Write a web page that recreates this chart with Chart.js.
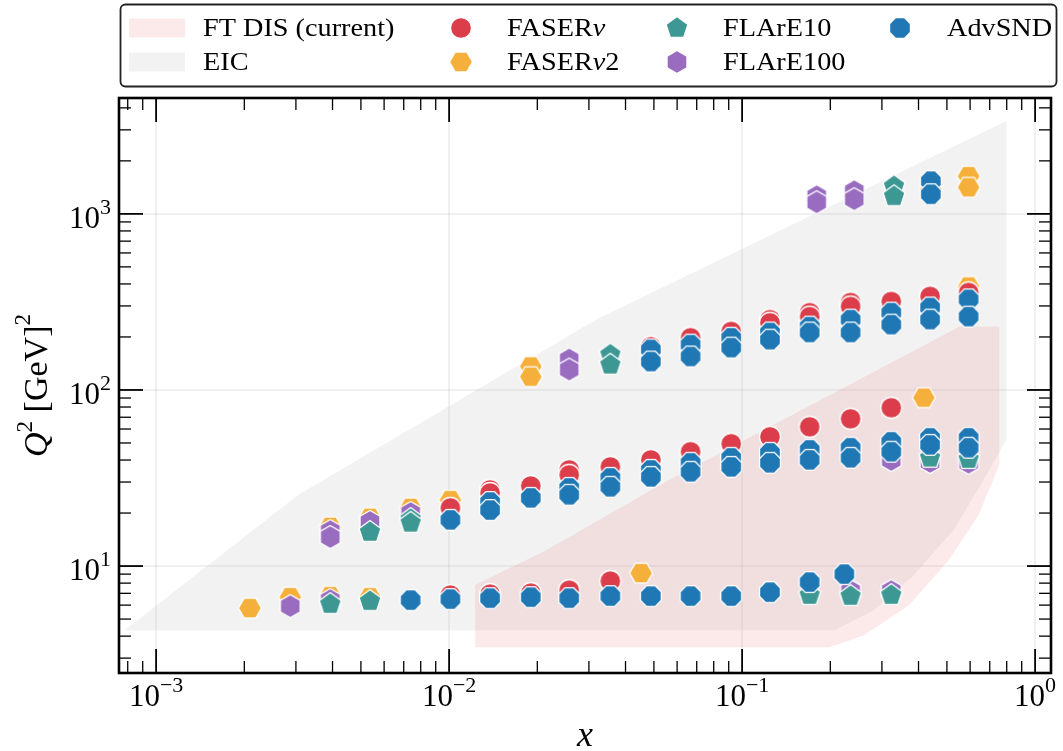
<!DOCTYPE html>
<html>
<head>
<meta charset="utf-8">
<script src="https://cdn.jsdelivr.net/npm/chart.js@4.4.1/dist/chart.umd.min.js"></script>
<style>
  html, body { margin: 0; background: #fff; }
</style>
</head>
<body>
<canvas id="disChart" width="1063" height="751"></canvas>
<script>
// axis ranges and ticks
const xMin = 7.47e-4, xMax = 1.133;
const yMin = 2.47, yMax = 4550;
const xTicks = [1e-3, 1e-2, 1e-1, 1];
const xTickExp = ['−3', '−2', '−1', '0'];
const yTicks = [10, 100, 1000];
const yTickExp = ['1', '2', '3'];

// kinematic coverage (outline of each region)
const ftdisX  = [0.01227, 0.01227, 0.02152, 0.05488, 0.5527, 0.755, 0.755, 0.641, 0.507, 0.372, 0.261, 0.199];
const ftdisQ2 = [3.46, 7.80, 12.33, 30.07, 229.3, 229.3, 37.6, 19.5, 10.8, 6.0, 4.05, 3.46];
const eicX  = [7.81e-4, 3.06e-3, 0.0318, 0.798, 0.798, 0.667, 0.527, 0.386, 0.282, 0.207];
const eicQ2 = [4.32, 25.4, 251.2, 3365, 52.1, 30.9, 16.0, 8.89, 5.62, 4.32];

// pseudodata bins per experiment
const fasernuX = [0.0101, 0.0138, 0.0190, 0.0257, 0.0355,
  0.0101, 0.0138, 0.0138, 0.0190, 0.0257, 0.0257, 0.0355, 0.0488, 0.0667, 0.0918, 0.1245, 0.170, 0.2345, 0.323,
  0.0488, 0.0667, 0.0918, 0.1245, 0.1245, 0.170, 0.170, 0.2345, 0.2345, 0.323, 0.438, 0.593];
const fasernuQ2 = [6.84, 6.93, 7.02, 7.30, 8.22,
  21.4, 27.1, 26.0, 28.5, 35.2, 33.0, 36.6, 40.1, 44.6, 49.5, 54.2, 61.8, 68.6, 79.3,
  176, 198, 215, 251, 241, 275, 261, 314, 298, 318, 340, 358];

const fasernu2X = [0.00209, 0.00287, 0.00393, 0.00537, 0.0452,
  0.00393, 0.00537, 0.00739, 0.0101, 0.417,
  0.0190, 0.0190, 0.593,
  0.4406, 0.593, 0.593];
const fasernu2Q2 = [5.77, 6.66, 6.75, 6.66, 9.12,
  16.7, 18.8, 21.4, 23.7, 90.4,
  136, 119, 387,
  1380, 1637, 1416];

const flare100X = [0.00287, 0.00393, 0.2345, 0.323,
  0.00393, 0.00393, 0.00537, 0.00739, 0.323, 0.438, 0.593,
  0.0257, 0.0257,
  0.1797, 0.1797, 0.2415, 0.2415];
const flare100Q2 = [5.92, 6.41, 7.21, 7.21,
  15.8, 14.6, 17.8, 20.0, 40.0, 39.0, 38.6,
  149, 130.5,
  1259, 1164, 1345, 1211];

const flare10X = [0.00393, 0.00537, 0.170, 0.2345, 0.323,
  0.00537, 0.00739, 0.00739, 0.438, 0.593,
  0.0355, 0.0355,
  0.330, 0.330];
const flare10Q2 = [6.08, 6.32, 6.84, 6.75, 6.84,
  15.6, 18.5, 17.6, 41.2, 40.5,
  159, 139,
  1436, 1259];

const advsndX = [0.00739, 0.0101, 0.0138, 0.0190, 0.0257, 0.0355, 0.0488, 0.0667, 0.0918, 0.1245, 0.170, 0.2233,
  0.0101, 0.0138, 0.0138, 0.0190, 0.0257, 0.0257, 0.0355, 0.0355, 0.0488, 0.0488, 0.0667, 0.0667, 0.0918, 0.0918,
  0.1245, 0.1245, 0.170, 0.170, 0.2345, 0.2345, 0.323, 0.323, 0.438, 0.438, 0.593, 0.593,
  0.0488, 0.0488, 0.0667, 0.0667, 0.0918, 0.0918, 0.1245, 0.1245, 0.170, 0.170, 0.2345, 0.2345, 0.323, 0.323,
  0.438, 0.438, 0.593, 0.593,
  0.4406, 0.4406];
const advsndQ2 = [6.41, 6.49, 6.57, 6.66, 6.57, 6.75, 6.75, 6.75, 6.75, 7.11, 8.11, 9.00,
  18.3, 23.1, 20.8, 24.4, 27.8, 25.4, 31.7, 28.2, 35.2, 32.1, 38.6, 34.3, 41.2, 36.6,
  44.0, 38.6, 45.7, 40.1, 47.0, 41.2, 50.8, 44.6, 53.5, 48.8, 53.5, 47.0,
  170, 145, 181, 155, 198, 174, 212, 193, 229, 212, 251, 212, 275, 235,
  294, 251, 327, 261,
  1534, 1293];

const serif = '"Liberation Serif", "DejaVu Serif", serif';
const pinkFill = 'rgba(232, 90, 100, 0.13)';
const greyFill = 'rgba(160, 160, 160, 0.14)';

// marker images (matplotlib-like o, H, h, p, 8)
function makeMarker(color, sides, rot, r) {
  const c = document.createElement('canvas');
  c.width = c.height = 28;
  const g = c.getContext('2d');
  g.translate(14, 14);
  g.beginPath();
  if (sides === 0) {
    g.arc(0, 0, r, 0, Math.PI * 2);
  } else {
    for (let i = 0; i < sides; i++) {
      const a = rot + i * Math.PI * 2 / sides;
      const px = r * Math.sin(a), py = -r * Math.cos(a);
      if (i === 0) g.moveTo(px, py); else g.lineTo(px, py);
    }
  }
  g.closePath();
  g.fillStyle = color;
  g.fill();
  g.lineWidth = 1.3;
  g.strokeStyle = '#fff';
  g.stroke();
  return c;
}

const mRed = makeMarker('#dc3d4a', 0, 0, 10.5);
const mOrange = makeMarker('#f5b03b', 6, Math.PI / 6, 11.5);
const mPurple = makeMarker('#9a6cc0', 6, 0, 11.5);
const mTeal = makeMarker('#3d9893', 5, 0, 11.5);
const mBlue = makeMarker('#1f77b4', 8, Math.PI / 8, 11.3);

const toPts = (xs, ys) => xs.map((x, i) => ({ x: x, y: ys[i] }));

function region(label, xs, ys, color, order) {
  return {
    type: 'line', label: label, data: toPts(xs, ys),
    fill: 'shape', backgroundColor: color, borderWidth: 0,
    pointRadius: 0, tension: 0, order: order
  };
}

function points(label, xs, ys, img, order) {
  return {
    type: 'scatter', label: label, data: toPts(xs, ys),
    pointStyle: img, pointRadius: 11, pointHoverRadius: 11, order: order
  };
}

function drawParts(ctx, parts, x, y) {
  let cx = x;
  parts.forEach(p => {
    ctx.font = p.font;
    ctx.fillText(p.text, cx, y + (p.dy || 0));
    cx += ctx.measureText(p.text).width;
  });
}

function partsWidth(ctx, parts) {
  let w = 0;
  parts.forEach(p => { ctx.font = p.font; w += ctx.measureText(p.text).width; });
  return w;
}

function powParts(exp, big, small, raise) {
  return [
    { text: '10', font: big + 'px ' + serif },
    { text: exp, font: small + 'px ' + serif, dy: -raise }
  ];
}

const framePlugin = {
  id: 'frame',
  afterDraw(chart) {
    const { ctx, chartArea: a, scales: { x, y } } = chart;
    ctx.save();
    ctx.strokeStyle = '#000';
    const seg = (x1, y1, x2, y2) => { ctx.beginPath(); ctx.moveTo(x1, y1); ctx.lineTo(x2, y2); ctx.stroke(); };

    // inward ticks on all four sides
    for (let e = -4; e <= 0; e++) {
      for (let k = 1; k <= 9; k++) {
        const v = k * Math.pow(10, e);
        if (v < xMin || v > xMax) continue;
        const px = x.getPixelForValue(v);
        const len = k === 1 ? 24 : 12;
        ctx.lineWidth = k === 1 ? 1.8 : 1.3;
        seg(px, a.bottom, px, a.bottom - len);
        seg(px, a.top, px, a.top + len);
      }
    }
    for (let e = 0; e <= 3; e++) {
      for (let k = 1; k <= 9; k++) {
        const v = k * Math.pow(10, e);
        if (v < yMin || v > yMax) continue;
        const py = y.getPixelForValue(v);
        const len = k === 1 ? 24 : 12;
        ctx.lineWidth = k === 1 ? 1.8 : 1.3;
        seg(a.left, py, a.left + len, py);
        seg(a.right, py, a.right - len, py);
      }
    }
    ctx.lineWidth = 2.6;
    ctx.strokeRect(a.left, a.top, a.right - a.left, a.bottom - a.top);

    // tick labels
    ctx.fillStyle = '#000';
    ctx.textBaseline = 'alphabetic';
    ctx.textAlign = 'left';
    xTicks.forEach((v, i) => {
      const parts = powParts(xTickExp[i], 31, 22, 14);
      const w = partsWidth(ctx, parts);
      drawParts(ctx, parts, x.getPixelForValue(v) - w / 2, a.bottom + 33);
    });
    yTicks.forEach((v, i) => {
      const parts = powParts(yTickExp[i], 31, 22, 14);
      const w = partsWidth(ctx, parts);
      drawParts(ctx, parts, a.left - 8 - w, y.getPixelForValue(v) + 14);
    });

    // axis titles
    ctx.font = 'italic 36px ' + serif;
    ctx.textAlign = 'center';
    ctx.fillText('x', (a.left + a.right) / 2, 746);
    ctx.textAlign = 'left';
    const yt = [
      { text: 'Q', font: 'italic 34px ' + serif },
      { text: '2', font: '23px ' + serif, dy: -15 },
      { text: ' [GeV]', font: '34px ' + serif },
      { text: '2', font: '23px ' + serif, dy: -17 }
    ];
    ctx.save();
    ctx.translate(47, (a.top + a.bottom) / 2);
    ctx.rotate(-Math.PI / 2);
    drawParts(ctx, yt, -partsWidth(ctx, yt) / 2, 0);
    ctx.restore();

    // legend box
    ctx.beginPath();
    ctx.roundRect(120.5, 4.5, 936, 82, 5);
    ctx.fillStyle = '#fff';
    ctx.fill();
    ctx.lineWidth = 1.8;
    ctx.strokeStyle = '#222';
    ctx.stroke();

    const rows = [28, 62];
    const entries = [
      { patch: pinkFill, col: 0, row: 0 },
      { patch: greyFill, col: 0, row: 1 },
      { img: mRed, col: 1, row: 0 },
      { img: mOrange, col: 1, row: 1 },
      { img: mTeal, col: 2, row: 0 },
      { img: mPurple, col: 2, row: 1 },
      { img: mBlue, col: 3, row: 0 }
    ];
    const iconX = [157, 461, 677, 900];
    const textX = [203, 507, 723, 947];
    const labels = chart.data.datasets.map(d => d.label);
    entries.forEach((en, i) => {
      const cy = rows[en.row];
      if (en.patch) {
        ctx.fillStyle = en.patch;
        ctx.fillRect(iconX[en.col] - 28, cy - 9.5, 56, 19);
      } else {
        ctx.drawImage(en.img, iconX[en.col] - 14, cy - 14);
      }
      const parts = [];
      labels[i].split(/(ν)/).forEach(s => {
        if (!s) return;
        parts.push({ text: s, font: (s === 'ν' ? 'italic ' : '') + '25px ' + serif });
      });
      ctx.fillStyle = '#000';
      ctx.save();
      ctx.translate(textX[en.col], cy + 8);
      ctx.scale(1.13, 1);
      drawParts(ctx, parts, 0, 0);
      ctx.restore();
    });
    ctx.restore();
  }
};

new Chart(document.getElementById('disChart'), {
  type: 'scatter',
  data: {
    datasets: [
      region('FT DIS (current)', ftdisX, ftdisQ2, pinkFill, 20),
      region('EIC', eicX, eicQ2, greyFill, 21),
      points('FASERν', fasernuX, fasernuQ2, mRed, 4),
      points('FASERν2', fasernu2X, fasernu2Q2, mOrange, 5),
      points('FLArE10', flare10X, flare10Q2, mTeal, 2),
      points('FLArE100', flare100X, flare100Q2, mPurple, 3),
      points('AdvSND', advsndX, advsndQ2, mBlue, 1)
    ]
  },
  options: {
    responsive: false,
    animation: false,
    events: [],
    layout: { padding: { top: 98, right: 5, left: 0, bottom: 0 } },
    plugins: {
      legend: { display: false },
      tooltip: { enabled: false }
    },
    scales: {
      x: {
        type: 'logarithmic', min: xMin, max: xMax,
        afterBuildTicks: s => { s.ticks = xTicks.map(v => ({ value: v })); },
        afterFit: s => { s.height = 78; },
        ticks: { display: false },
        grid: { color: 'rgba(0,0,0,0.06)', lineWidth: 2, drawTicks: false },
        border: { display: false }
      },
      y: {
        type: 'logarithmic', min: yMin, max: yMax,
        afterBuildTicks: s => { s.ticks = yTicks.map(v => ({ value: v })); },
        afterFit: s => { s.width = 119; },
        ticks: { display: false },
        grid: { color: 'rgba(0,0,0,0.06)', lineWidth: 2, drawTicks: false },
        border: { display: false }
      }
    }
  },
  plugins: [framePlugin]
});
</script>
</body>
</html>
